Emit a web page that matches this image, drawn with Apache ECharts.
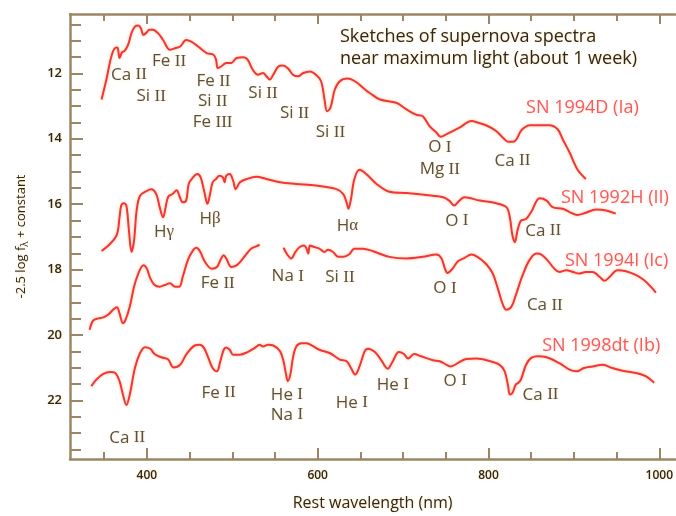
<!DOCTYPE html>
<html>
<head>
<meta charset="utf-8">
<script src="https://cdn.jsdelivr.net/npm/echarts@6/dist/echarts.min.js"></script>
<style>
html,body{margin:0;padding:0;background:#fff;}
#c{width:676px;height:516px;}
</style>
</head>
<body>
<div id="c"></div>
<script>
// ---- data (wavelength in nm, value = -2.5 log f + constant) ----
const waveD = [347,353,359,364,366,368,371,374,378,382,386,390,393,396,399,403,407,413,419,427,433,439,446,452,460,470,478,481,483,487,493,499,505,513,518,524,530,536,540,544,548,554,559,565,571,577,583,591,598,604,608,611,615,620,626,635,661,673,692,704,715,723,731,739,744,751,766,780,788,799,809,817,823,830,838,842,848,871,881,887,895,904,914];
const fluxD = [12.80,12.14,11.43,11.21,11.23,11.53,11.35,11.31,11.13,10.77,10.57,10.54,10.62,10.82,10.77,10.67,10.67,10.77,10.98,11.28,11.23,11.18,10.98,11.03,11.18,11.38,11.43,11.58,11.84,11.79,11.68,11.68,11.53,11.51,11.58,11.89,12.04,11.99,12.09,12.19,12.04,11.79,11.76,11.84,12.04,12.09,11.99,11.94,12.04,12.24,12.80,13.16,13.05,12.50,12.24,12.16,12.60,12.80,12.90,13.10,13.26,13.31,13.61,13.81,13.94,13.86,13.66,13.46,13.51,13.61,13.76,13.97,14.09,14.08,13.76,13.66,13.59,13.59,13.71,14.02,14.42,14.93,15.23];

const waveH = [347,357,365,368,370,373,376,379,382,385,388,392,400,405,411,415,419,422,425,430,435,438,442,446,449,454,459,463,467,471,474,477,481,485,489,491,493,497,501,504,509,517,528,540,556,575,598,622,630,634,636,639,643,649,657,669,684,704,727,747,754,760,766,772,790,809,821,825,828,831,834,838,844,850,860,868,875,887,895,904,914,926,938,949];
const fluxH = [17.43,17.21,16.92,16.40,16.04,15.97,16.04,16.80,17.46,17.11,16.20,15.74,15.59,15.54,15.69,16.09,16.40,16.09,15.77,15.69,15.57,15.74,15.94,15.89,15.38,15.18,15.08,15.18,15.59,15.99,15.69,15.33,15.23,15.13,15.18,15.33,15.13,15.08,15.28,15.54,15.33,15.23,15.16,15.23,15.33,15.38,15.43,15.54,15.69,15.96,16.14,15.84,15.23,14.95,15.08,15.38,15.62,15.66,15.72,15.79,15.89,16.04,15.89,15.79,15.89,15.97,16.09,16.40,16.95,17.16,16.80,16.50,16.45,16.24,15.82,15.89,16.09,16.14,16.24,16.33,16.26,16.16,16.19,16.29];

const waveI = [333,337,343,349,355,361,365,368,372,375,380,385,390,396,400,404,409,415,421,427,433,438,442,448,454,458,462,468,476,482,487,490,493,499,505,511,517,522,528,532,546,560,565,569,574,579,584,587,589,591,596,602,608,612,618,624,630,637,643,653,665,684,704,723,739,745,749,752,758,764,772,780,787,797,805,811,817,821,827,832,840,848,856,862,869,877,883,891,899,906,914,922,930,936,942,951,961,973,982,990,996];
const fluxI = [19.84,19.56,19.49,19.46,19.37,19.21,19.15,19.34,19.64,19.54,19.13,18.52,18.12,17.87,17.97,18.27,18.47,18.52,18.47,18.42,18.52,18.52,18.22,17.71,17.41,17.33,17.43,17.76,17.97,17.92,17.66,17.56,17.66,17.92,17.87,17.71,17.51,17.36,17.29,17.24,null,17.33,17.56,17.66,17.46,17.31,17.26,17.36,17.51,17.26,17.31,17.36,17.46,17.39,17.46,17.61,17.61,17.53,17.36,17.36,17.44,17.61,17.66,17.61,17.54,17.66,17.97,18.10,17.97,17.75,17.64,17.54,17.61,17.82,18.12,18.58,19.08,19.23,19.13,18.78,18.17,17.71,17.51,17.54,17.71,17.97,18.07,18.02,18.07,18.12,18.07,18.07,18.22,18.34,18.22,18.02,18.05,18.17,18.32,18.52,18.70];

const waveB = [335,341,349,357,363,368,372,376,380,386,392,398,404,409,417,425,431,439,446,456,462,467,472,477,482,486,490,493,497,501,509,518,526,532,536,542,548,556,560,563,565,568,571,575,581,587,595,602,614,626,634,639,644,649,655,659,667,674,682,688,695,701,706,713,721,735,743,751,756,764,774,786,799,813,819,823,825,828,832,835,838,844,850,858,867,883,895,903,912,922,934,945,957,973,984,994];
const fluxB = [21.56,21.36,21.19,21.13,21.16,21.41,21.82,22.14,21.82,21.01,20.55,20.37,20.42,20.58,20.68,20.75,20.99,20.91,20.60,20.32,20.30,20.40,20.70,21.01,21.11,20.80,20.45,20.38,20.45,20.60,20.60,20.52,20.40,20.30,20.35,20.30,20.32,20.50,20.80,21.21,21.41,21.21,20.70,20.35,20.25,20.25,20.35,20.45,20.55,20.75,20.80,21.01,21.21,20.96,20.50,20.42,20.52,20.75,21.03,20.80,20.52,20.58,20.72,20.58,20.65,20.77,20.80,20.91,20.96,20.86,20.73,20.72,20.78,20.91,21.11,21.56,21.82,21.77,21.51,21.46,21.36,20.91,20.70,20.65,20.67,20.86,21.06,21.11,21.01,20.96,20.91,21.01,21.09,21.16,21.26,21.46];

const seriesNames = ['SN 1994D (Ia)','SN 1992H (II)','SN 1994I (Ic)','SN 1998dt (Ib)'];
const nameWave = [910, 948, 950, 932];
const nameFlux = [13.07, 15.81, 17.72, 20.34];

const annotText = ['Ca II','Fe II','Si II','Fe II','Si II','Fe III','Si II','Si II','Si II','O I','Mg II','Ca II',
                   'Hγ','Hβ','Hα','O I','Ca II',
                   'Fe II','Na I','Si II','O I','Ca II',
                   'Fe II','He I','Na I','Ca II','He I','He I','O I','Ca II'];
const annotWave = [379,426,405,478,477,477,536,573,615,743,743,828,
                   420,474,635,763,864,
                   483,565,626,749,866,
                   484,564,564,377,640,688,761,861];
const annotFlux = [12.04,11.64,12.71,12.25,12.86,13.50,12.62,13.23,13.80,14.26,14.93,14.68,
                   16.84,16.45,16.66,16.51,16.81,
                   18.42,18.21,18.24,18.58,19.09,
                   21.77,21.83,22.44,23.14,22.07,21.52,21.40,21.83];

const xMajor = [400, 600, 800, 1000];
const xMinor = [350, 450, 500, 550, 650, 700, 750, 850, 900, 950];
const yMajor = [12, 14, 16, 18, 20, 22];
const yMinor = [10.5, 11, 11.5, 12.5, 13, 13.5, 14.5, 15, 15.5, 16.5, 17, 17.5, 18.5, 19, 19.5, 20.5, 21, 21.5, 22.5, 23, 23.5];

// ---- styles ----
const AX = '#9c8764';
const TXT = '#2f271c';
const RED = '#f3343a';
const SANS = 'Open Sans';
const SERIF = 'Liberation Serif';
const halo = {textShadowColor: 'rgba(255,222,150,0.8)', textShadowBlur: 3};

const XMIN = 310, XMAX = 1018.7, YMIN = 10.185, YMAX = 23.79;

function pairs(w, f) {
  return w.map((x, i) => [x, f[i] === null ? '-' : f[i]]);
}
function richLabel(t) {
  const m = t.match(/^(\S+?)(\s?)([IVX]+|[αβγ])$/);
  if (!m) return t;
  return '{s|' + m[1] + '}' + m[2] + '{r|' + m[3] + '}';
}

function xAx(pos, values, len, showLine, showLabel, extra) {
  return Object.assign({
    type: 'value', min: XMIN, max: XMAX, position: pos,
    axisLine: {show: showLine, lineStyle: {color: AX, width: 2.5}},
    axisTick: {show: true, inside: true, length: len, customValues: values, lineStyle: {color: AX, width: 2}},
    axisLabel: {show: showLabel, customValues: values, color: TXT, fontFamily: SANS, fontSize: 12, fontWeight: 600,
                margin: 11, formatter: v => String(v), ...halo},
    splitLine: {show: false}
  }, extra || {});
}
function yAx(values, len, showLine, showLabel, extra) {
  return Object.assign({
    type: 'value', min: YMIN, max: YMAX, inverse: true, position: 'left',
    axisLine: {show: showLine, lineStyle: {color: AX, width: 2.5}},
    axisTick: {show: true, inside: true, length: len, customValues: values, lineStyle: {color: AX, width: 2}},
    axisLabel: {show: showLabel, customValues: values, color: TXT, fontFamily: SANS, fontSize: 13, fontWeight: 600,
                margin: 8, formatter: v => String(v), ...halo},
    splitLine: {show: false}
  }, extra || {});
}

const lineStyle = {color: RED, width: 2, shadowColor: 'rgba(255,190,120,0.8)', shadowBlur: 3};

const spectra = [[waveD, fluxD], [waveH, fluxH], [waveI, fluxI], [waveB, fluxB]];

const series = spectra.map((s, i) => ({
  type: 'line', name: seriesNames[i], xAxisIndex: 0, yAxisIndex: 0,
  data: pairs(s[0], s[1]), showSymbol: false, symbol: 'none', smooth: 0.35,
  connectNulls: false, lineStyle: lineStyle, silent: true, z: 3
}));

series.push({
  type: 'scatter', xAxisIndex: 0, yAxisIndex: 0, symbolSize: 0, silent: true, z: 5,
  data: annotText.map((t, i) => ({value: [annotWave[i], annotFlux[i]], label: {formatter: richLabel(t)}})),
  label: {
    show: true, position: 'inside', color: TXT, fontSize: 17, fontFamily: SANS, ...halo,
    rich: {
      s: {fontFamily: SANS, fontSize: 17, color: TXT, ...halo},
      r: {fontFamily: SERIF, fontSize: 17, color: TXT, ...halo}
    }
  }
});

series.push({
  type: 'scatter', xAxisIndex: 0, yAxisIndex: 0, symbolSize: 0, silent: true, z: 5,
  data: seriesNames.map((t, i) => ({value: [nameWave[i], nameFlux[i]], label: {formatter: t}})),
  label: {show: true, position: 'inside', color: RED, fontSize: 18, fontFamily: SANS,
          textShadowColor: 'rgba(255,200,170,0.7)', textShadowBlur: 3}
});

const chart = echarts.init(document.getElementById('c'), null, {renderer: 'canvas'});
chart.setOption({
  animation: false,
  backgroundColor: '#ffffff',
  title: {
    text: 'Sketches of supernova spectra\nnear maximum light (about 1 week)',
    left: 340, top: 26, padding: 0,
    textStyle: {fontFamily: SANS, fontSize: 18, fontWeight: 'normal', color: TXT, lineHeight: 22, ...halo}
  },
  grid: {left: 70, right: 0, top: 14, bottom: 55, containLabel: false},
  xAxis: [
    xAx('bottom', xMajor, 11, true, true, {
      name: 'Rest wavelength (nm)', nameLocation: 'middle', nameGap: 36,
      nameTextStyle: {fontFamily: SANS, fontSize: 16, color: TXT, ...halo}
    }),
    xAx('bottom', xMinor, 7, false, false),
    xAx('top', xMajor, 10, true, false),
    xAx('top', xMinor, 7, false, false)
  ],
  yAxis: [
    yAx(yMajor, 13, true, true, {
      name: '-2.5 log f{sub|λ} + constant', nameLocation: 'middle', nameGap: 40,
      nameTextStyle: {fontFamily: SANS, fontSize: 13, color: TXT, lineHeight: 18, ...halo,
        rich: {sub: {fontFamily: SANS, fontSize: 10, color: TXT, verticalAlign: 'bottom', lineHeight: 10, ...halo}}}
    }),
    yAx(yMinor, 11, false, false)
  ],
  series: series
});
</script>
</body>
</html>
